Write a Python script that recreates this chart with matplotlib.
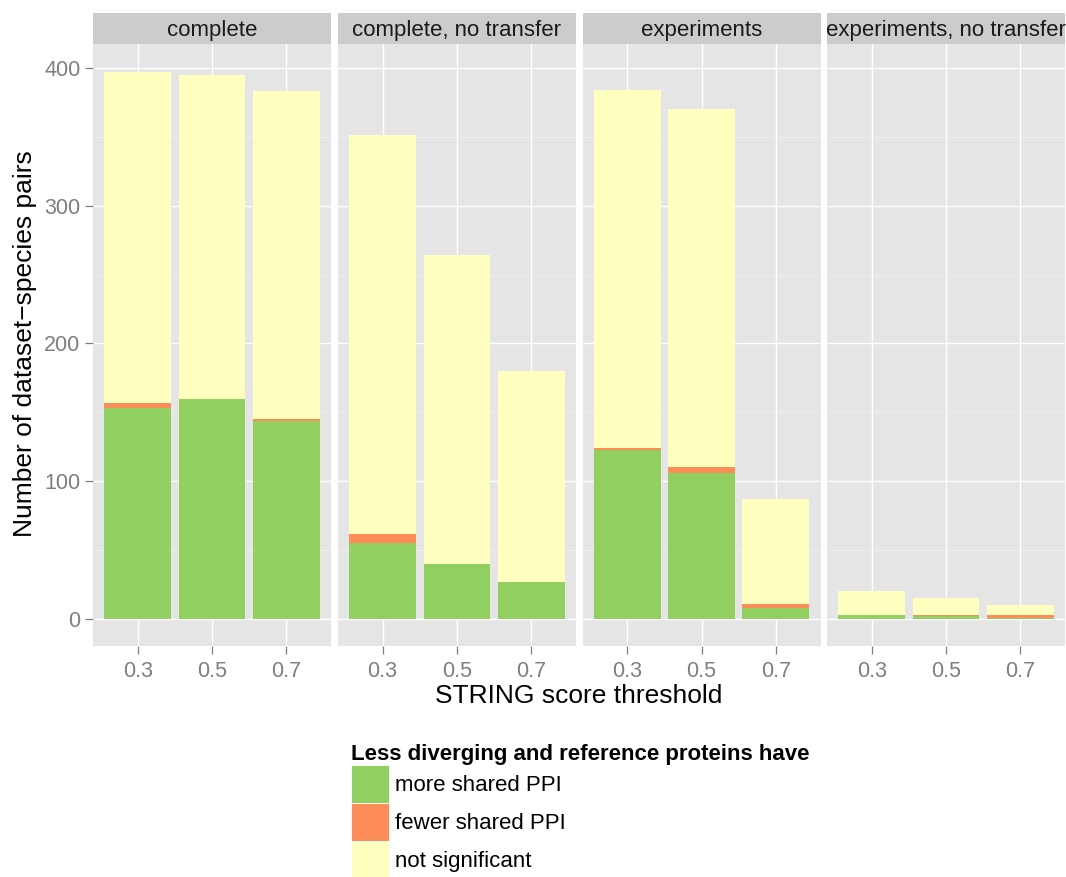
import matplotlib
matplotlib.use("Agg")
import matplotlib.pyplot as plt
from matplotlib.patches import Patch
import numpy as np

plt.rcParams['font.family'] = ['Liberation Sans', 'DejaVu Sans']

# data
panels = ["complete", "complete, no transfer", "experiments", "experiments, no transfer"]
thresholds = ["0.3", "0.5", "0.7"]
more_shared = [[153, 160, 144], [55, 40, 27], [123, 106, 8], [3, 2, 1]]
fewer_shared = [[4, 0, 1], [7, 0, 0], [1, 4, 3], [0, 1, 2]]
not_signif = [[240, 235, 238], [289, 224, 153], [260, 260, 76], [17, 12, 7]]

series = ["more shared PPI", "fewer shared PPI", "not significant"]
colors = ["#91CF60", "#FC8D59", "#FFFFBF"]

W, H = 1066, 877
fig = plt.figure(figsize=(W / 100, H / 100), dpi=100)

panel_left = [93, 338, 582.5, 827]
panel_w = 238
plot_top, plot_bot = 44, 645.7
strip_top = 13
grey_text = "#7F7F7F"

x = np.arange(1, 4)
for i, name in enumerate(panels):
    l = panel_left[i] / W
    ax = fig.add_axes([l, 1 - plot_bot / H, panel_w / W, (plot_bot - plot_top) / H])
    ax.set_facecolor("#E5E5E5")
    bottom = np.zeros(3)
    for vals, c in zip([more_shared[i], fewer_shared[i], not_signif[i]], colors):
        ax.bar(x, vals, width=0.9, bottom=bottom, color=c, linewidth=0, zorder=3)
        bottom = bottom + np.array(vals)
    ax.set_xlim(0.4, 3.6)
    ax.set_ylim(-19.4, 417.4)
    ax.set_xticks(x)
    ax.set_xticklabels(thresholds)
    ax.set_yticks([0, 100, 200, 300, 400])
    ax.set_yticks([50, 150, 250, 350], minor=True)
    ax.grid(True, which="major", color="white", linewidth=1.0, zorder=1)
    ax.grid(True, which="minor", axis="y", color="#F2F2F2", linewidth=0.5, zorder=1)
    ax.set_axisbelow(True)
    for s in ax.spines.values():
        s.set_visible(False)
    ax.tick_params(axis="both", which="major", colors=grey_text, labelsize=15.5,
                   length=6, width=0.9, pad=3)
    ax.tick_params(axis="x", which="major", pad=5)
    ax.tick_params(axis="y", which="minor", length=0)
    if i > 0:
        ax.tick_params(axis="y", which="major", length=0, labelleft=False)

    # facet strip
    sax = fig.add_axes([l, 1 - plot_top / H, panel_w / W, (plot_top - strip_top) / H])
    sax.set_facecolor("#CCCCCC")
    sax.set_xticks([])
    sax.set_yticks([])
    for s in sax.spines.values():
        s.set_visible(False)
    sax.text(0.5, 0.45, name, ha="center", va="center", fontsize=16,
             color="#1A1A1A", transform=sax.transAxes)

fig.text(579 / W, 1 - 696 / H, "STRING score threshold", ha="center", va="center",
         fontsize=19)
fig.text(25 / W, 1 - 344 / H, "Number of dataset\u2212species pairs", ha="center",
         va="center", rotation=90, fontsize=19)

handles = [Patch(facecolor=c, edgecolor="white", linewidth=0.6) for c in colors]
leg = fig.legend(handles, series, loc="upper left",
                 bbox_to_anchor=(351 / W, 1 - 744 / H), frameon=False,
                 fontsize=16, handlelength=1.72, handleheight=2.26,
                 labelspacing=0.0, handletextpad=0.25, borderpad=0, borderaxespad=0,
                 title="Less diverging and reference proteins have",
                 title_fontproperties={"weight": "bold", "size": 16},
                 alignment="left")

fig.savefig("out.png", dpi=100)
